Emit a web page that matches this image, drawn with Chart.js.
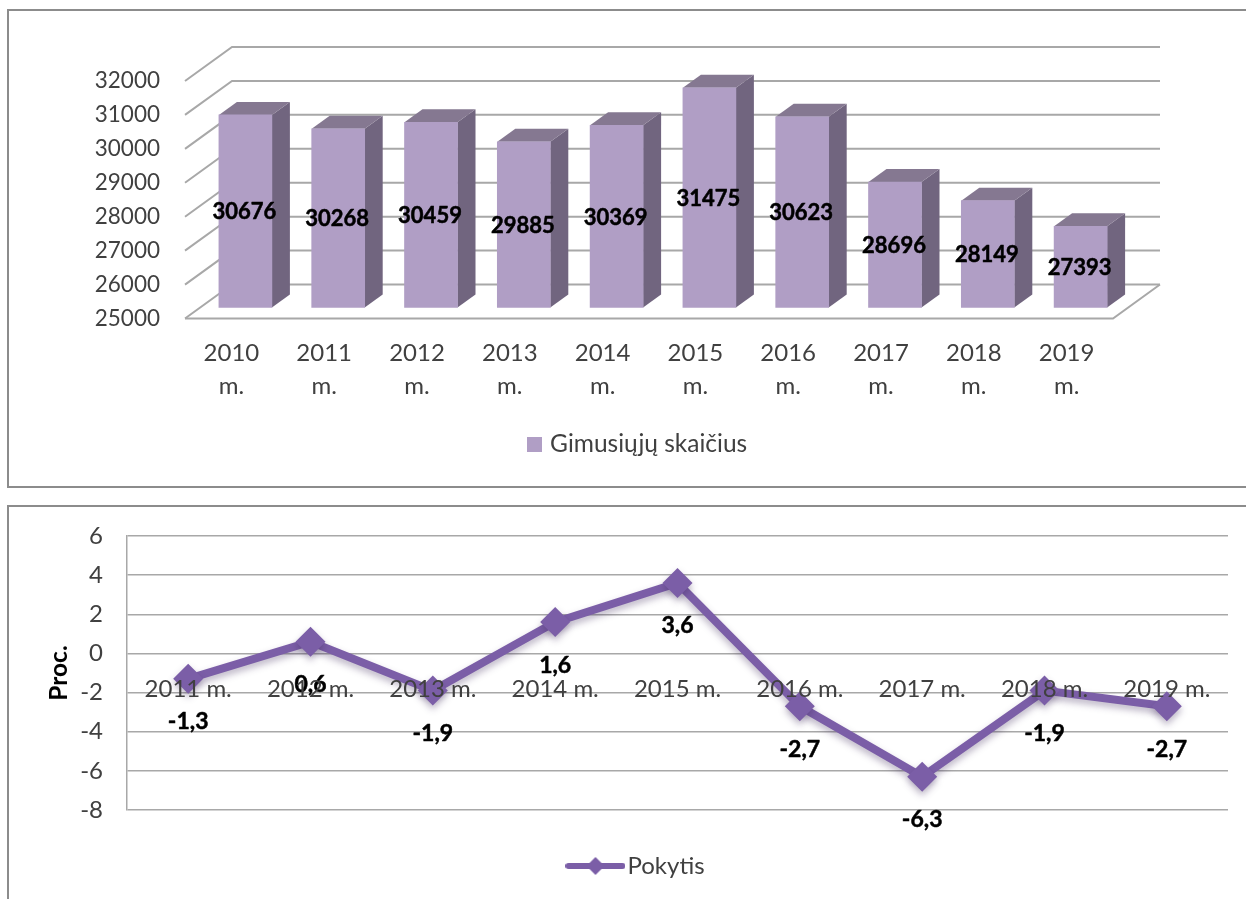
<!DOCTYPE html>
<html><head><meta charset="utf-8">
<script src="https://cdn.jsdelivr.net/npm/chart.js@4"></script>
<style>
html,body{margin:0;padding:0;background:#fff;width:1246px;height:899px;overflow:hidden}
.panel{position:absolute;border:2px solid #8c8c8c;box-sizing:border-box}
canvas{position:absolute;left:0}
</style></head><body>
<div class="panel" style="left:7px;top:9px;width:1250px;height:479px"></div>
<div class="panel" style="left:7px;top:505px;width:1250px;height:420px"></div>
<canvas id="c1" width="1246" height="495" style="top:0"></canvas>
<canvas id="c2" width="1246" height="404" style="top:495px"></canvas>
<script>
const birthYears = ['2010','2011','2012','2013','2014','2015','2016','2017','2018','2019'];
const birthCounts = [30676,30268,30459,29885,30369,31475,30623,28696,28149,27393];
const changeYears = ['2011 m.','2012 m.','2013 m.','2014 m.','2015 m.','2016 m.','2017 m.','2018 m.','2019 m.'];
const changeValues = [-1.3,0.6,-1.9,1.6,3.6,-2.7,-6.3,-1.9,-2.7];
const barName = 'Gimusiųjų skaičius';
const lineName = 'Pokytis';

Chart.defaults.font.family = 'Lato';
Chart.defaults.color = '#404040';
Chart.defaults.animation = false;
const GRID = '#a8a8a8';

function placeLegend(cx, cy){
  return {id:'placeLegend', afterLayout(chart){
    const l = chart.legend;
    const dx = cx-(l.left+l.right)/2, dy = cy-(l.top+l.bottom)/2;
    l.left+=dx; l.right+=dx; l.top+=dy; l.bottom+=dy;
  }};
}

function boldText(ctx, text, x, y){
  ctx.fillStyle='#000'; ctx.strokeStyle='#000'; ctx.lineWidth=0.5; ctx.lineJoin='round';
  ctx.textAlign='center'; ctx.textBaseline='middle';
  ctx.strokeText(text, x, y);
  ctx.fillText(text, x, y);
}

const wall = {dx:47, dy:-34};
const barShift = {dx:14, dy:-11};
const barDepth = {dx:18, dy:-13};

const bars3d = {
  id:'bars3d',
  beforeDatasetsDraw(chart){
    const {ctx, scales:{x,y}} = chart;
    ctx.save();
    ctx.strokeStyle = GRID; ctx.lineWidth = 2;
    y.ticks.forEach(t=>{
      const py = y.getPixelForValue(t.value);
      ctx.beginPath();
      ctx.moveTo(x.left, py);
      ctx.lineTo(x.left+wall.dx, py+wall.dy);
      ctx.lineTo(x.right+wall.dx, py+wall.dy);
      ctx.stroke();
    });
    const by = y.bottom;
    ctx.beginPath();
    ctx.moveTo(x.left, by);
    ctx.lineTo(x.right, by);
    ctx.lineTo(x.right+wall.dx, by+wall.dy);
    ctx.stroke();
    ctx.restore();

    ctx.save();
    ctx.translate(barShift.dx, barShift.dy);
    chart.getDatasetMeta(0).data.forEach(b=>{
      const l=b.x-b.width/2, r=b.x+b.width/2, t=b.y, base=b.base;
      ctx.fillStyle='#71657f';
      ctx.beginPath();
      ctx.moveTo(r,t); ctx.lineTo(r+barDepth.dx,t+barDepth.dy);
      ctx.lineTo(r+barDepth.dx,base+barDepth.dy); ctx.lineTo(r,base); ctx.closePath(); ctx.fill();
      ctx.fillStyle='#857891';
      ctx.beginPath();
      ctx.moveTo(l,t); ctx.lineTo(l+barDepth.dx,t+barDepth.dy);
      ctx.lineTo(r+barDepth.dx,t+barDepth.dy); ctx.lineTo(r,t); ctx.closePath(); ctx.fill();
    });
  },
  afterDatasetsDraw(chart){
    const {ctx} = chart;
    chart.getDatasetMeta(0).data.forEach((b,i)=>{
      ctx.font='bold 22px Lato';
      boldText(ctx, String(birthCounts[i]), b.x-1, (b.y+b.base)/2+1);
    });
    ctx.restore();
  }
};

const barKey = (()=>{
  const c=document.createElement('canvas'); c.width=15; c.height=15;
  const g=c.getContext('2d'); g.fillStyle='#b09ec5'; g.fillRect(0,0,15,15);
  return c;
})();

new Chart(document.getElementById('c1'),{
  type:'bar',
  data:{labels:birthYears.map(y=>[y,'m.']),
    datasets:[{label:barName,data:birthCounts,backgroundColor:'#b09ec5',barThickness:53,base:25000,clip:false}]},
  plugins:[bars3d, placeLegend(639.5,446)],
  options:{
    responsive:false,
    layout:{padding:{left:0,right:133,top:81,bottom:0}},
    plugins:{
      tooltip:{enabled:false},
      legend:{position:'bottom',labels:{usePointStyle:true,pointStyleWidth:6,padding:7,color:'#404040',font:{size:24.5},
        generateLabels(){return [{text:barName,pointStyle:barKey,fillStyle:'#b09ec5',strokeStyle:'#b09ec5',lineWidth:0,datasetIndex:0,fontColor:'#404040'}];}}}
    },
    scales:{
      x:{grid:{display:false},border:{display:false},
        ticks:{autoSkip:false,maxRotation:0,minRotation:0,padding:10,color:'#404040',font:{size:24,lineHeight:1.375}},
        afterFit(s){s.height=135;}},
      y:{min:25000,max:32000,grid:{display:false},border:{display:false},
        ticks:{stepSize:1000,padding:17,color:'#404040',font:{size:22.5},callback:v=>String(v)},
        afterFit(s){s.width=185;}}
    }
  }
});

const lineKey = (()=>{
  const c=document.createElement('canvas'); c.width=60; c.height=24;
  const g=c.getContext('2d');
  g.strokeStyle='#7b5ea7'; g.lineWidth=6; g.lineCap='round';
  g.beginPath(); g.moveTo(3,12); g.lineTo(57,12); g.stroke();
  g.fillStyle='#7b5ea7';
  g.beginPath(); g.moveTo(30,3); g.lineTo(39,12); g.lineTo(30,21); g.lineTo(21,12); g.closePath(); g.fill();
  return c;
})();

const lineExtras = {
  id:'lineExtras',
  beforeDatasetsDraw(chart){
    const {ctx}=chart; ctx.save();
    ctx.shadowColor='rgba(60,40,90,0.35)'; ctx.shadowBlur=7; ctx.shadowOffsetY=4;
  },
  afterDatasetsDraw(chart){
    const {ctx}=chart; ctx.restore();
    ctx.save();
    ctx.font='bold 23px Lato';
    chart.getDatasetMeta(0).data.forEach((p,i)=>{
      boldText(ctx, String(changeValues[i]).replace('.',','), p.x, p.y+43);
    });
    ctx.restore();
  }
};

new Chart(document.getElementById('c2'),{
  type:'line',
  data:{labels:changeYears,
    datasets:[{label:lineName,data:changeValues,borderColor:'#7b5ea7',backgroundColor:'#7b5ea7',borderWidth:8,tension:0,
      pointStyle:'rectRot',pointRadius:15,pointBackgroundColor:'#7b5ea7',pointBorderWidth:0,clip:false}]},
  plugins:[lineExtras, placeLegend(640,371)],
  options:{
    responsive:false,
    layout:{padding:{left:0,right:18,top:41,bottom:45}},
    plugins:{
      tooltip:{enabled:false},
      legend:{position:'bottom',labels:{usePointStyle:true,pointStyleWidth:40,padding:10,color:'#404040',font:{size:24},
        generateLabels(){return [{text:lineName,pointStyle:lineKey,fillStyle:'#7b5ea7',strokeStyle:'#7b5ea7',lineWidth:0,datasetIndex:0,fontColor:'#404040'}];}}}
    },
    scales:{
      x:{position:{y:0},offset:true,grid:{display:false},border:{display:false},
        ticks:{autoSkip:false,maxRotation:0,minRotation:0,padding:13,z:1,color:'#404040',font:{size:24}}},
      y:{min:-8,max:6,grid:{color:GRID,lineWidth:1.5,drawTicks:false},border:{display:true,color:GRID,width:1.5},
        title:{display:true,text:'Proc.',color:'#000',font:{size:24.5,weight:'bold'},padding:{top:44,bottom:0}},
        ticks:{stepSize:2,padding:24,color:'#404040',font:{size:24}},
        afterFit(s){s.width=127;}}
    }
  }
});
</script>
</body></html>
